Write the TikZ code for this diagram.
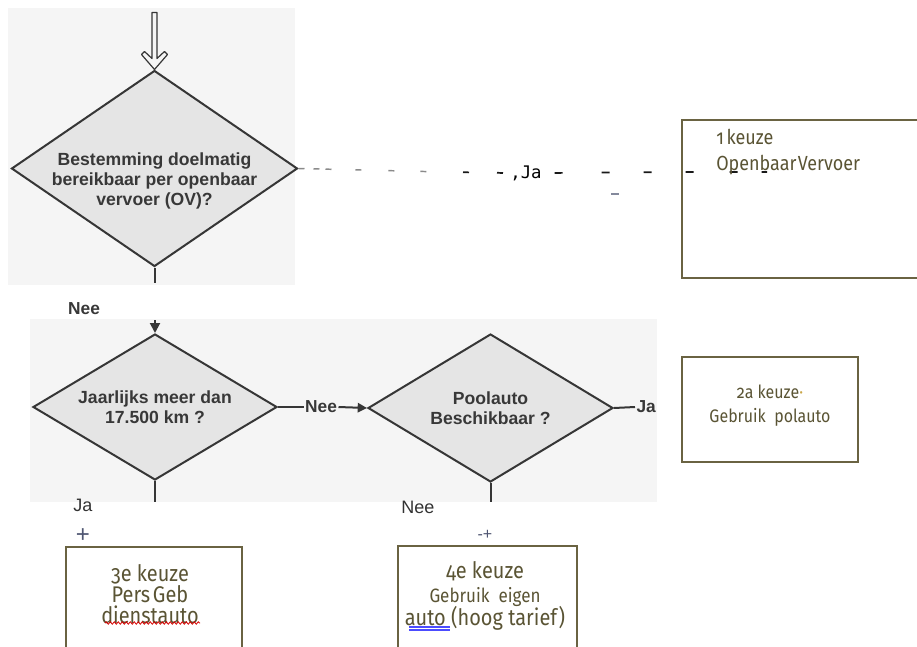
\documentclass[tikz,border=0pt]{standalone}
\usepackage{fontspec}
\setmainfont{Liberation Sans}
\newfontfamily\boxfont[Numbers=OldStyle, FakeStretch=0.88]{Fira Sans}
\newfontfamily\jafont{DejaVu Sans Mono}
\usetikzlibrary{shapes.geometric,arrows.meta,decorations.pathmorphing}
\definecolor{bgscan}{HTML}{F5F5F5}
\definecolor{diafill}{HTML}{E5E5E5}
\definecolor{dialine}{HTML}{363636}
\definecolor{dtextc}{HTML}{383838}
\definecolor{boxline}{HTML}{6A6342}
\definecolor{boxtextc}{HTML}{5A5434}
\definecolor{plusc}{HTML}{4F5672}
\definecolor{dotc}{HTML}{C9A648}
\definecolor{dashgray}{HTML}{8A8A8A}
\begin{document}
\begin{tikzpicture}[x=0.75pt,y=-0.75pt,
  dia/.style={diamond, draw=dialine, fill=diafill, line width=1.5pt, inner sep=0pt},
  dtext/.style={text=dtextc, font=\bfseries\fontsize{13.2}{15}\selectfont, align=center},
  keuzebox/.style={draw=boxline, line width=2.2pt, fill=white, inner sep=0pt},
  ktext/.style={text=boxtextc, align=center, inner sep=0pt},
  flow/.style={draw=dialine, line width=1.5pt},
  plainlbl/.style={text=black!80, font=\fontsize{13.5}{15}\selectfont, inner sep=0pt},
  boldlbl/.style={text=dtextc, font=\bfseries\fontsize{13}{15}\selectfont},
]
\useasboundingbox (0,0) rectangle (917,646);
\fill[white] (0,0) rectangle (917,646);
\fill[bgscan] (8,8) rectangle (295,285);
\fill[bgscan] (30,319) rectangle (657,502);

% decision diamonds
\node[dia, minimum width=214.5pt, minimum height=147pt,
  label={[dtext, yshift=-9pt]center:{Bestemming doelmatig\\bereikbaar per openbaar\\vervoer (OV)?}}]
  (d1) at (154.5,168.5) {};
\node[dia, minimum width=183pt, minimum height=109.5pt,
  label={[dtext]center:{Jaarlijks meer dan\\17.500 km ?}}]
  (d2) at (155,407) {};
\node[dia, minimum width=183.75pt, minimum height=111pt,
  label={[dtext]center:{Poolauto\\Beschikbaar ?}}]
  (d3) at (490.5,408) {};

% choice boxes
\node[keuzebox, minimum width=182.25pt, minimum height=118.5pt] (box1) at (803.5,199) {};
\node[keuzebox, minimum width=132pt, minimum height=78.75pt] (box2) at (770,409.5) {};
\node[keuzebox, minimum width=132pt, minimum height=84.75pt] (box3) at (154,603.5) {};
\node[keuzebox, minimum width=134.25pt, minimum height=85.5pt] (box4) at (487.5,603) {};

% top hollow arrow (outline, tip on d1)
\coordinate (arrtop) at ([shift={(-2.5,-57)}]d1.north);
\draw[draw=dialine, line width=0.9pt, fill=bgscan, line join=round]
  (arrtop) -- ([shift={(-2.5,-11)}]d1.north) -- ([shift={(-10,-18)}]d1.north)
  -- ([shift={(-13,-15)}]d1.north) -- (d1.north) -- ([shift={(13,-15)}]d1.north)
  -- ([shift={(10,-18)}]d1.north) -- ([shift={(2.5,-11)}]d1.north)
  -- ([shift={(2.5,-57)}]d1.north) -- cycle;

% Ja (dashed) from d1 to box1
\coordinate (gsplit) at (445,172);
\node[font=\jafont\fontsize{13}{14}\selectfont, inner sep=2pt] (jaA) at (526,173) {,Ja};
\coordinate (jend) at (767,172);
\draw[dashgray, line width=1.1pt,
  dash pattern=on 4.5pt off 6.75pt on 4.5pt off 4.5pt on 4.5pt off 18pt on 4.5pt off 20.25pt on 4.5pt off 19.5pt on 4.5pt off 40pt]
  (d1.east) -- (gsplit);
\draw[black!90, line width=1.3pt,
  dash pattern=on 0pt off 13.5pt on 4.5pt off 21pt on 4.5pt off 30pt]
  (gsplit) -- (jaA.west);
\draw[black!90, line width=1.3pt,
  dash pattern=on 0pt off 7.5pt on 6pt off 29.25pt on 6pt off 25.5pt on 6pt off 25.5pt on 6pt off 27pt on 6pt off 18pt on 6pt off 10pt]
  (jaA.east) -- (box1.west |- jend) -- (jend);
\draw[draw=plusc!70, line width=1.5pt] (611,194) -- (619,194);

% d1 -> d2
\coordinate (d1stub) at (154.5,283);
\draw[flow] (d1.south) -- (d1stub);
\node[boldlbl] (neeA) at (84,309) {Nee};
\coordinate (d2in) at (155,320);
\draw[flow, -{Triangle[length=7.5pt,width=7.5pt]}] (d2in) -- (d2.north);

% d2 -> d3
\node[boldlbl, fill=bgscan, inner sep=1pt] (neeB) at (321,407) {Nee};
\draw[flow] (d2.east) -- (neeB.west);
\draw[flow, -{Triangle[length=7pt,width=7pt]}] (neeB.east) -- (d3.west);

% d3 -> Ja
\node[boldlbl, anchor=west, inner sep=1pt] (jaB) at (635,407) {Ja};
\draw[flow] (d3.east) -- (jaB.west);

% stubs below
\coordinate (d2stub) at (155,502);
\draw[flow] (d2.south) -- (d2stub);
\coordinate (d3stub) at (490.5,502);
\draw[flow] (d3.south) -- (d3stub);
\node[plainlbl] (jaC) at (83,505) {Ja};
\node[plainlbl] (neeC) at (418,507) {Nee};
\node[text=plusc, font=\fontsize{18}{18}\selectfont, inner sep=0pt] (plusA) at (83,536) {+};
\node[text=plusc, font=\fontsize{12}{12}\selectfont, inner sep=0pt] (plusB) at (485,535) {-+};

% box texts
\node[ktext, anchor=base west, align=left, font=\boxfont\fontsize{15.3}{19.5}\selectfont] (t1) at (716,170)
  {1\hspace{2pt}keuze\\Openbaar\hspace{1pt}Vervoer};
\node[ktext, font=\boxfont\fontsize{13.6}{18}\selectfont] (t2) at (770,406)
  {2a keuze{\color{dotc}·}\\Gebruik\ \ polauto};
\node[ktext, font=\boxfont\fontsize{17}{15.9}\selectfont] (t3) at (150,594)
  {3e keuze\\Pers\hspace{2pt}Geb\\dienstauto};
\node[ktext, font=\boxfont\fontsize{17}{17.6}\selectfont] (t4) at (485,596)
  {4e keuze\\{\fontsize{14.5}{17.6}\selectfont Gebruik\ \ eigen}\\auto (hoog tarief)};

% proofing underlines
\draw[red!85!black, line width=0.6pt, decorate, decoration={snake, amplitude=0.9pt, segment length=3pt}]
  (105,623) -- (200,623);
\draw[blue!70, line width=0.8pt] (409,627) -- (450,627);
\draw[blue!70, line width=0.8pt] (409,630) -- (450,630);
\end{tikzpicture}
\end{document}
